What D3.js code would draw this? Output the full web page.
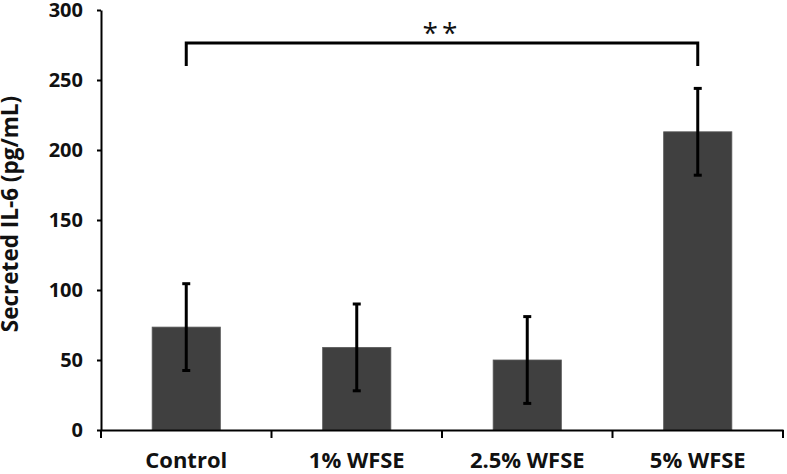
<!DOCTYPE html>
<html>
<head>
<meta charset="utf-8">
<script src="https://cdn.jsdelivr.net/npm/d3@7"></script>
<style>
  html, body { margin: 0; padding: 0; background: #fff; }
  svg { display: block; font-family: "Open Sans", Lato, sans-serif; }
</style>
</head>
<body>
<svg id="chart" width="787" height="474"></svg>
<script>
const categories = ["Control", "1% WFSE", "2.5% WFSE", "5% WFSE"];
const means = [73.5, 59, 50, 213];
const errors = [31, 31, 31, 31];
const yTicks = [0, 50, 100, 150, 200, 250, 300];
const yLabel = "Secreted IL-6 (pg/mL)";
const sigPair = ["Control", "5% WFSE"];
const sigText = "**";

const svg = d3.select("#chart");
const x = d3.scaleBand().domain(categories).range([101, 783]).paddingInner(0.6).paddingOuter(0.3);
const y = d3.scaleLinear().domain([0, 300]).range([430, 10]);

// bars
svg.append("g").selectAll("rect").data(categories).join("rect")
  .attr("x", d => x(d)).attr("width", x.bandwidth())
  .attr("y", (d, i) => y(means[i])).attr("height", (d, i) => y(0) - y(means[i]))
  .attr("fill", "#404040").attr("stroke", "#5a5a5a").attr("stroke-width", 0.8);

// error bars
const eb = svg.append("g").attr("stroke", "#000").attr("stroke-width", 3);
categories.forEach((c, i) => {
  const cx = x(c) + x.bandwidth() / 2;
  const hi = y(means[i] + errors[i]), lo = y(means[i] - errors[i]);
  eb.append("line").attr("x1", cx).attr("x2", cx).attr("y1", hi).attr("y2", lo);
  eb.append("line").attr("x1", cx - 4).attr("x2", cx + 4).attr("y1", hi).attr("y2", hi);
  eb.append("line").attr("x1", cx - 4).attr("x2", cx + 4).attr("y1", lo).attr("y2", lo);
});

// y axis
const yAxis = svg.append("g").attr("transform", "translate(101,0)")
  .call(d3.axisLeft(y).tickValues(yTicks).tickSize(4).tickPadding(14).tickSizeOuter(0));
yAxis.select(".domain").attr("stroke", "#000").attr("stroke-width", 2);
yAxis.selectAll(".tick line").attr("stroke", "#000").attr("stroke-width", 2);
yAxis.selectAll(".tick text").attr("font-size", 20).attr("font-weight", "bold")
  .attr("fill", "#111").attr("font-family", "'Open Sans', sans-serif");

// x axis
const xAxis = svg.append("g").attr("transform", "translate(0,430)")
  .call(d3.axisBottom(x).tickSize(0).tickPadding(22).tickSizeOuter(0));
xAxis.select(".domain").attr("stroke", "#000").attr("stroke-width", 2);
xAxis.selectAll(".tick text").attr("font-size", 22).attr("font-weight", "bold")
  .attr("fill", "#111").attr("font-family", "'Open Sans', sans-serif");
// boundary ticks
const bounds = [x.range()[0]].concat(categories.map(c => x(c) + x.bandwidth() / 2 + x.step() / 2));
xAxis.selectAll(".btick").data(bounds).join("line").attr("class", "btick")
  .attr("x1", d => d).attr("x2", d => d).attr("y1", 0).attr("y2", 8)
  .attr("stroke", "#000").attr("stroke-width", 2);

// y label
svg.append("text")
  .attr("transform", "translate(18,214) rotate(-90)")
  .attr("text-anchor", "middle")
  .attr("font-size", 22.5).attr("font-weight", "bold").attr("fill", "#111")
  .text(yLabel);

// significance bracket
const bx1 = x(sigPair[0]) + x.bandwidth() / 2;
const bx2 = x(sigPair[1]) + x.bandwidth() / 2;
svg.append("path")
  .attr("d", `M${bx1},66 V43 H${bx2} V66`)
  .attr("fill", "none").attr("stroke", "#000").attr("stroke-width", 3);
svg.append("text")
  .attr("x", (bx1 + bx2) / 2).attr("y", 43)
  .attr("text-anchor", "middle")
  .attr("font-size", 28).attr("font-weight", "normal").attr("fill", "#111")
  .attr("letter-spacing", 4)
  .text(sigText);
</script>
</body>
</html>
